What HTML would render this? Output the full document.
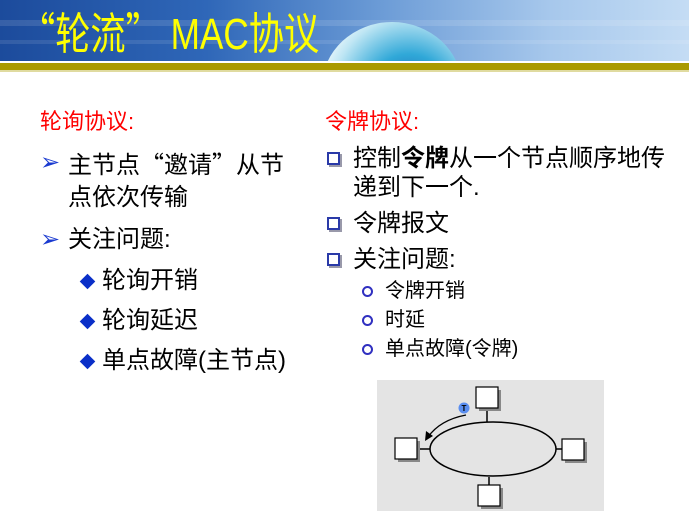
<!DOCTYPE html>
<html><head><meta charset="utf-8"><style>
body{margin:0;width:689px;height:516px;background:#fff;position:relative;overflow:hidden;font-family:"Liberation Sans","Noto Sans CJK SC",sans-serif;}
.t{position:absolute;white-space:nowrap;color:#000;}
.q{font-family:"Noto Sans CJK SC",sans-serif;}
#hdr{position:absolute;left:0;top:0;width:689px;height:61px;overflow:hidden;background:linear-gradient(90deg,#1c4b9c 0%,#2f67b8 30%,#6b9bd6 55%,#a7c8ec 80%,#c4dcf4 100%);}
.h{font-size:24px;line-height:24px;}
.s{font-size:20px;line-height:20px;}
.d{position:absolute;width:11px;height:11px;background:#0a2fc8;transform:rotate(45deg);}
.sq{position:absolute;width:9px;height:9px;border:2px solid #2a3aa8;box-shadow:2px 2px 0 #99a;}
.c{position:absolute;width:7px;height:7px;border:2px solid #3030c0;border-radius:50%;}
</style></head><body>
<div id="hdr">
 <div style="position:absolute;left:0;top:20px;width:689px;height:6px;background:rgba(255,255,255,0.12)"></div>
 <div style="position:absolute;left:0;top:40px;width:689px;height:4px;background:rgba(255,255,255,0.1)"></div>
 <div style="position:absolute;left:322px;top:22px;width:140px;height:130px;border-radius:50%;background:radial-gradient(circle at 62% 55%,#1a60b0 0%,#30a8d8 35%,#bfe6f4 68%,#ffffff 88%);"></div>
 <div class="t" style="left:20px;top:4px;font-size:40px;line-height:48px;color:#ffff00;transform:scale(0.88,1.1);transform-origin:left top;font-family:'Liberation Sans','WenQuanYi Zen Hei',sans-serif;"><span class="q">“轮流”</span> MAC协议</div>
</div>
<div style="position:absolute;left:0;top:61px;width:689px;height:2px;background:#fff"></div>
<div style="position:absolute;left:0;top:63px;width:689px;height:7px;background:#aa9a00"></div>
<div style="position:absolute;left:0;top:70px;width:689px;height:2px;background:#e0dba0"></div>

<div class="t" style="left:40px;top:111px;font-size:22px;line-height:22px;color:#f00">轮询协议:</div>
<div class="t" style="left:40px;top:150px;font-size:24px;line-height:24px;color:#1a3ad0;font-family:'DejaVu Sans',sans-serif">➢</div>
<div class="t h" style="left:68px;top:151px">主节点<span class="q">“邀请”</span>从节</div>
<div class="t h" style="left:68px;top:186px">点依次传输</div>
<div class="t" style="left:40px;top:227px;font-size:24px;line-height:24px;color:#1a3ad0;font-family:'DejaVu Sans',sans-serif">➢</div>
<div class="t h" style="left:68px;top:228px">关注问题:</div>
<div class="d" style="left:82px;top:276px"></div><div class="t h" style="left:102px;top:269px">轮询开销</div>
<div class="d" style="left:82px;top:316px"></div><div class="t h" style="left:102px;top:309px">轮询延迟</div>
<div class="d" style="left:82px;top:356px"></div><div class="t h" style="left:102px;top:349px">单点故障(主节点)</div>

<div class="t" style="left:325px;top:111px;font-size:22px;line-height:22px;color:#f00">令牌协议:</div>
<div class="sq" style="left:327px;top:152px"></div>
<div class="t h" style="left:353px;top:147px">控制<b>令牌</b>从一个节点顺序地传</div>
<div class="t h" style="left:353px;top:176px">递到下一个.</div>
<div class="sq" style="left:327px;top:217px"></div><div class="t h" style="left:353px;top:212px">令牌报文</div>
<div class="sq" style="left:327px;top:253px"></div><div class="t h" style="left:353px;top:248px">关注问题:</div>
<div class="c" style="left:362px;top:286px"></div><div class="t s" style="left:385px;top:281px">令牌开销</div>
<div class="c" style="left:362px;top:315px"></div><div class="t s" style="left:385px;top:310px">时延</div>
<div class="c" style="left:362px;top:344px"></div><div class="t s" style="left:385px;top:339px">单点故障(令牌)</div>

<svg style="position:absolute;left:0;top:0" width="689" height="516">
 <rect x="377" y="380" width="227" height="131" fill="#e4e4e4"/>
 <g stroke="#000" stroke-width="1.5">
  <line x1="487" y1="408" x2="487" y2="422"/>
  <line x1="417" y1="449" x2="430" y2="449"/>
  <line x1="556" y1="449" x2="562" y2="449"/>
  <line x1="489" y1="477" x2="489" y2="485"/>
 </g>
 <ellipse cx="493" cy="449" rx="63" ry="27" fill="none" stroke="#000" stroke-width="1.5"/>
 <g fill="#888"><rect x="479" y="390" width="22" height="21"/><rect x="398" y="441" width="22" height="21"/><rect x="565" y="442" width="22" height="21"/><rect x="481" y="488" width="22" height="21"/></g>
 <g fill="#fff" stroke="#000" stroke-width="1.2"><rect x="476" y="387" width="22" height="21"/><rect x="395" y="438" width="22" height="21"/><rect x="562" y="439" width="22" height="21"/><rect x="478" y="485" width="22" height="21"/></g>
 <path d="M466 415 Q440 420 428 437" fill="none" stroke="#000" stroke-width="1.3"/>
 <polygon points="425,441 426,431 433,436" fill="#000"/>
 <circle cx="464" cy="408" r="5.5" fill="#5a8ef0"/>
 <text x="464" y="411" font-size="8" font-weight="bold" text-anchor="middle" font-family="Liberation Sans,sans-serif">T</text>
</svg>
</body></html>
